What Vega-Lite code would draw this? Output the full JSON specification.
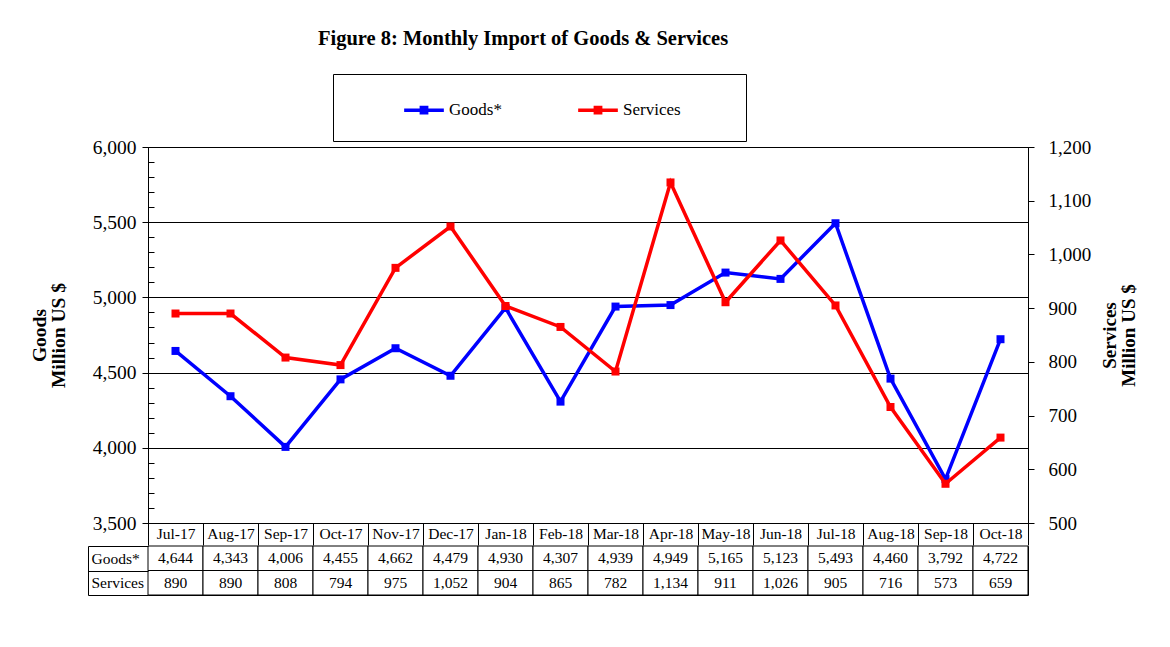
{
  "$schema": "https://vega.github.io/schema/vega-lite/v6.json",
  "background": "white",
  "padding": {"left": 28, "top": 28, "right": 5, "bottom": 5},
  "spacing": -11,
  "config": {
    "view": {"stroke": "black", "strokeWidth": 1},
    "font": "Liberation Serif"
  },
  "data": {
    "values": [
      {"month": "Jul-17", "goods": 4644, "services": 890},
      {"month": "Aug-17", "goods": 4343, "services": 890},
      {"month": "Sep-17", "goods": 4006, "services": 808},
      {"month": "Oct-17", "goods": 4455, "services": 794},
      {"month": "Nov-17", "goods": 4662, "services": 975},
      {"month": "Dec-17", "goods": 4479, "services": 1052},
      {"month": "Jan-18", "goods": 4930, "services": 904},
      {"month": "Feb-18", "goods": 4307, "services": 865},
      {"month": "Mar-18", "goods": 4939, "services": 782},
      {"month": "Apr-18", "goods": 4949, "services": 1134},
      {"month": "May-18", "goods": 5165, "services": 911},
      {"month": "Jun-18", "goods": 5123, "services": 1026},
      {"month": "Jul-18", "goods": 5493, "services": 905},
      {"month": "Aug-18", "goods": 4460, "services": 716},
      {"month": "Sep-18", "goods": 3792, "services": 573},
      {"month": "Oct-18", "goods": 4722, "services": 659}
    ]
  },
  "vconcat": [
    {
      "width": 880,
      "height": 376,
      "title": {
        "text": "Figure 8: Monthly Import of Goods & Services",
        "anchor": "start",
        "frame": "group",
        "dx": 170,
        "font": "Liberation Serif",
        "fontSize": 20.5,
        "fontWeight": "bold",
        "color": "black",
        "offset": 88
      },
      "encoding": {
        "x": {
          "field": "month",
          "type": "ordinal",
          "sort": null,
          "scale": {"type": "band", "paddingInner": 0, "paddingOuter": 0},
          "axis": {
            "title": null,
            "tickBand": "extent",
            "tickSize": 22,
            "tickColor": "black",
            "domainColor": "black",
            "labelAngle": 0,
            "labelBaseline": "top",
            "labelPadding": -19,
            "labelFont": "Liberation Serif",
            "labelFontSize": 15.5,
            "labelColor": "black"
          }
        }
      },
      "layer": [
        {
          "mark": {"type": "line", "strokeWidth": 3.5, "point": {"shape": "square", "size": 64, "filled": true, "opacity": 1}},
          "encoding": {
            "y": {
              "field": "goods",
              "type": "quantitative",
              "scale": {"domain": [3500, 6000], "nice": false, "zero": false},
              "axis": {
                "orient": "left",
                "title": ["Goods", "Million US $"],
                "titleFont": "Liberation Serif",
                "titleFontSize": 19.5,
                "titleLineHeight": 19,
                "titleFontWeight": "bold",
                "titleColor": "black",
                "titlePadding": 24,
                "values": [3500, 3600, 3700, 3800, 3900, 4000, 4100, 4200, 4300, 4400, 4500, 4600, 4700, 4800, 4900, 5000, 5100, 5200, 5300, 5400, 5500, 5600, 5700, 5800, 5900, 6000],
                "labelExpr": "datum.value % 500 == 0 ? format(datum.value, ',') : ''",
                "labelOverlap": false,
                "labelFont": "Liberation Serif",
                "labelFontSize": 19.5,
                "labelColor": "black",
                "labelPadding": 6,
                "tickColor": "black",
                "tickSize": {"condition": {"test": "datum.value % 500 == 0", "value": 6}, "value": -6},
                "domainColor": "black",
                "grid": true,
                "gridColor": "black",
                "gridOpacity": {"condition": {"test": "datum.value % 500 == 0", "value": 1}, "value": 0}
              }
            },
            "color": {
              "datum": "Goods*",
              "scale": {"domain": ["Goods*", "Services"], "range": ["#0000FF", "#FF0000"]},
              "legend": {
                "orient": "none",
                "legendX": 185,
                "legendY": -73,
                "direction": "horizontal",
                "title": " ",
                "titleOrient": "right",
                "titlePadding": 44,
                "strokeColor": "black",
                "fillColor": "white",
                "padding": 21,
                "symbolOffset": 55,
                "symbolType": "M-1.5,0H1.5M-0.2,-0.2H0.2V0.2H-0.2Z",
                "symbolSize": 700,
                "symbolStrokeWidth": 3.5,
                "labelOffset": 10,
                "columnPadding": 26,
                "labelFont": "Liberation Serif",
                "labelFontSize": 17,
                "labelColor": "black",
                "encoding": {
                  "symbols": {
                    "update": {
                      "fill": {"scale": "color", "field": "value"},
                      "stroke": {"scale": "color", "field": "value"},
                      "opacity": {"value": 1}
                    }
                  }
                }
              }
            }
          }
        },
        {
          "mark": {"type": "line", "strokeWidth": 3.5, "point": {"shape": "square", "size": 64, "filled": true, "opacity": 1}},
          "encoding": {
            "y": {
              "field": "services",
              "type": "quantitative",
              "scale": {"domain": [500, 1200], "nice": false, "zero": false},
              "axis": {
                "orient": "right",
                "title": ["Services", "Million US $"],
                "titleAngle": -90,
                "titleFont": "Liberation Serif",
                "titleFontSize": 19,
                "titleLineHeight": 19,
                "titleFontWeight": "bold",
                "titleColor": "black",
                "titlePadding": 10,
                "values": [500, 600, 700, 800, 900, 1000, 1100, 1200],
                "labelExpr": "format(datum.value, ',')",
                "labelFont": "Liberation Serif",
                "labelFontSize": 19,
                "labelColor": "black",
                "labelPadding": 14,
                "tickColor": "black",
                "tickSize": 6,
                "domainColor": "black",
                "grid": false
              }
            },
            "color": {"datum": "Services"}
          }
        }
      ],
      "resolve": {"scale": {"y": "independent"}}
    },
    {
      "width": 880,
      "height": 49,
      "transform": [{"fold": ["goods", "services"], "as": ["row", "value"]}],
      "encoding": {
        "x": {
          "field": "month",
          "type": "ordinal",
          "sort": null,
          "scale": {"type": "band", "paddingInner": 0, "paddingOuter": 0},
          "axis": null
        },
        "y": {
          "field": "row",
          "type": "nominal",
          "scale": {"domain": ["goods", "services"], "paddingInner": 0, "paddingOuter": 0},
          "axis": {
            "orient": "left",
            "title": null,
            "offset": 60,
            "tickBand": "extent",
            "tickSize": -60,
            "tickColor": "black",
            "domainColor": "black",
            "labelAlign": "left",
            "labelPadding": 57,
            "labelExpr": "datum.value == 'goods' ? 'Goods*' : (datum.value == 'services' ? 'Services' : '')",
            "labelFont": "Liberation Serif",
            "labelFontSize": 15.5,
            "labelColor": "black"
          }
        }
      },
      "layer": [
        {"mark": {"type": "rect", "fill": "white", "stroke": "black", "strokeWidth": 1}},
        {
          "mark": {"type": "text", "font": "Liberation Serif", "fontSize": 15.5, "color": "black"},
          "encoding": {"text": {"field": "value", "type": "quantitative", "format": ","}}
        }
      ]
    }
  ]
}
